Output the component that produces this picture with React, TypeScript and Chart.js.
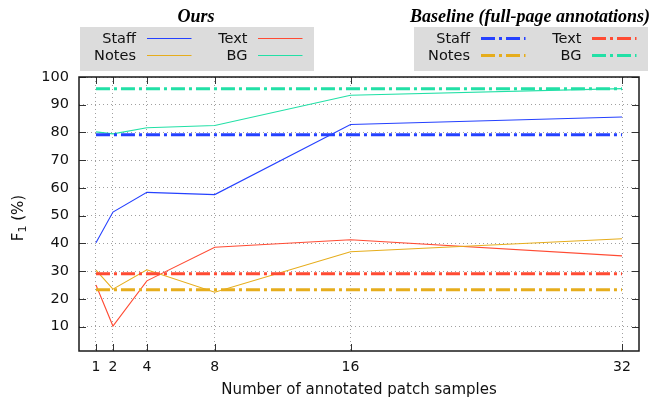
import React, { useEffect, useRef } from 'react';
import { Chart, registerables } from 'chart.js';

Chart.register(...registerables);

// ---- data ----
const samples = [1, 2, 4, 8, 16, 32];
const staffOurs = [40.2, 51.3, 58.4, 57.6, 82.9, 85.6];
const notesOurs = [30.4, 23.5, 30.5, 22.4, 37.0, 41.7];
const textOurs = [25.0, 10.2, 26.5, 38.6, 41.3, 35.5];
const bgOurs = [80.2, 79.5, 81.7, 82.5, 93.4, 95.8];

const baselineStaff = 79.2;
const baselineNotes = 23.3;
const baselineText = 29.1;
const baselineBG = 95.8;

const yTicks = [10, 20, 30, 40, 50, 60, 70, 80, 90, 100];
const seriesNames = ['Staff', 'Notes', 'Text', 'BG'];
const oursTitle = 'Ours';
const baselineTitle = 'Baseline (full-page annotations)';
const xTitle = 'Number of annotated patch samples';
const yTitleMain = 'F';
const yTitleSub = '1';
const yTitleRest = ' (%)';

const COLORS: Record<string, string> = {
  Staff: '#2541ff',
  Notes: '#e6ad1c',
  Text: '#ff4b33',
  BG: '#22e0a6',
};
const BASE_DASH = [14, 4, 3, 4];
const FONT = '"DejaVu Sans", sans-serif';

const pts = (ys: number[]) => samples.map((x, i) => ({ x, y: ys[i] }));
const flat = (y: number) => [
  { x: samples[0], y },
  { x: samples[samples.length - 1], y },
];

const framePlugin = {
  id: 'framePlugin',
  afterDraw(chart: any) {
    const ctx = chart.ctx as CanvasRenderingContext2D;
    const { left, right, top, bottom } = chart.chartArea;
    const xs = chart.scales.x;
    const ys = chart.scales.y;
    ctx.save();
    // inward tick marks
    ctx.strokeStyle = '#333';
    ctx.lineWidth = 1;
    ctx.beginPath();
    const tl = 7;
    for (const v of samples) {
      const px = Math.round(xs.getPixelForValue(v)) + 0.5;
      ctx.moveTo(px, bottom);
      ctx.lineTo(px, bottom - tl);
      ctx.moveTo(px, top);
      ctx.lineTo(px, top + tl);
    }
    for (const v of yTicks) {
      const py = Math.round(ys.getPixelForValue(v)) + 0.5;
      ctx.moveTo(left, py);
      ctx.lineTo(left + tl, py);
      ctx.moveTo(right, py);
      ctx.lineTo(right - tl, py);
    }
    ctx.stroke();
    // border
    ctx.strokeStyle = '#1a1a1a';
    ctx.lineWidth = 1.5;
    ctx.strokeRect(left, top, right - left, bottom - top);

    // y title with subscript
    ctx.save();
    ctx.translate(19, (top + bottom) / 2 + 4);
    ctx.rotate(-Math.PI / 2);
    ctx.fillStyle = '#111';
    ctx.textBaseline = 'middle';
    ctx.textAlign = 'left';
    const big = '15px ' + FONT;
    const small = '11px ' + FONT;
    ctx.font = big;
    const w1 = ctx.measureText(yTitleMain).width;
    const w3 = ctx.measureText(yTitleRest).width;
    ctx.font = small;
    const w2 = ctx.measureText(yTitleSub).width;
    const total = w1 + w2 + w3;
    let cx = -total / 2;
    ctx.font = big;
    ctx.fillText(yTitleMain, cx, 0);
    cx += w1;
    ctx.font = small;
    ctx.fillText(yTitleSub, cx, 4);
    cx += w2;
    ctx.font = big;
    ctx.fillText(yTitleRest, cx, 0);
    ctx.restore();

    // legends
    const drawLegend = (bx: number, title: string, dashed: boolean) => {
      const bw = 234;
      const by = 27;
      const bh = 44;
      ctx.fillStyle = '#dcdcdc';
      ctx.fillRect(bx, by, bw, bh);
      ctx.fillStyle = '#000';
      ctx.font = 'italic bold 18px "Liberation Serif", "Times New Roman", serif';
      ctx.textAlign = 'center';
      ctx.textBaseline = 'alphabetic';
      ctx.fillText(title, bx + bw / 2 - 1, 22);
      ctx.font = '14.5px ' + FONT;
      ctx.textAlign = 'right';
      ctx.textBaseline = 'middle';
      const cols = [
        [seriesNames[0], seriesNames[1]],
        [seriesNames[2], seriesNames[3]],
      ];
      const textRight = [56, 167.5];
      const lineStart = [67, 178];
      const lineLen = 44.5;
      const rowY = [38.5, 55.5];
      cols.forEach((col, ci) => {
        col.forEach((name, ri) => {
          ctx.fillStyle = '#111';
          ctx.fillText(name, bx + textRight[ci], rowY[ri] + 1);
          ctx.strokeStyle = COLORS[name];
          ctx.lineWidth = dashed ? 3 : 1.2;
          ctx.setLineDash(dashed ? BASE_DASH : []);
          ctx.beginPath();
          ctx.moveTo(bx + lineStart[ci], rowY[ri]);
          ctx.lineTo(bx + lineStart[ci] + lineLen, rowY[ri]);
          ctx.stroke();
          ctx.setLineDash([]);
        });
      });
    };
    drawLegend(80, oursTitle, false);
    drawLegend(414, baselineTitle, true);
    ctx.restore();
  },
};

export default function App() {
  const ref = useRef<HTMLCanvasElement | null>(null);
  useEffect(() => {
    document.body.style.margin = '0';
    const canvas = ref.current;
    if (!canvas) return;
    const ourDs = (name: string, ys: number[]) => ({
      label: name,
      data: pts(ys),
      borderColor: COLORS[name],
      backgroundColor: COLORS[name],
      borderWidth: 1.1,
      pointRadius: 0,
      tension: 0,
    });
    const baseDs = (name: string, y: number) => ({
      label: name + ' (baseline)',
      data: flat(y),
      borderColor: COLORS[name],
      backgroundColor: COLORS[name],
      borderWidth: 3,
      borderDash: BASE_DASH,
      borderCapStyle: 'butt' as const,
      pointRadius: 0,
    });
    const chart = new Chart(canvas, {
      type: 'line',
      data: {
        datasets: [
          baseDs('Staff', baselineStaff),
          baseDs('Notes', baselineNotes),
          baseDs('Text', baselineText),
          baseDs('BG', baselineBG),
          ourDs('Staff', staffOurs),
          ourDs('Notes', notesOurs),
          ourDs('Text', textOurs),
          ourDs('BG', bgOurs),
        ],
      },
      options: {
        animation: false,
        responsive: false,
        events: [],
        layout: { padding: { top: 77, right: 18, left: 0, bottom: 0 } },
        plugins: {
          legend: { display: false },
          tooltip: { enabled: false },
          title: { display: false },
        },
        scales: {
          x: {
            type: 'linear',
            min: 0,
            max: 33,
            afterBuildTicks: (s: any) => {
              s.ticks = samples.map((v) => ({ value: v }));
            },
            afterFit: (s: any) => {
              s.height = 48;
            },
            ticks: {
              autoSkip: false,
              maxRotation: 0,
              padding: 8,
              color: '#111',
              font: { family: FONT, size: 14 },
              callback: (v: any) => String(v),
            },
            grid: {
              color: '#a0a0a0',
              lineWidth: 1,
              drawTicks: false,
            },
            border: { display: false, dash: [1, 3] },
            title: {
              display: true,
              text: xTitle,
              color: '#111',
              font: { family: FONT, size: 15 },
              padding: { top: 0, bottom: 0 },
            },
          },
          y: {
            type: 'linear',
            min: 1.2,
            max: 100,
            afterBuildTicks: (s: any) => {
              s.ticks = yTicks.map((v) => ({ value: v }));
            },
            afterFit: (s: any) => {
              s.width = 79;
            },
            ticks: {
              padding: 10,
              color: '#111',
              font: { family: FONT, size: 14.5 },
              callback: (v: any) => String(v),
            },
            grid: {
              color: '#a0a0a0',
              lineWidth: 1,
              drawTicks: false,
            },
            border: { display: false, dash: [1, 3] },
            title: { display: false },
          },
        },
      },
      plugins: [framePlugin],
    });
    return () => chart.destroy();
  }, []);
  return (
    <div style={{ position: 'absolute', left: 0, top: 0, width: 657, height: 399 }}>
      <canvas ref={ref} width={657} height={399} />
    </div>
  );
}
